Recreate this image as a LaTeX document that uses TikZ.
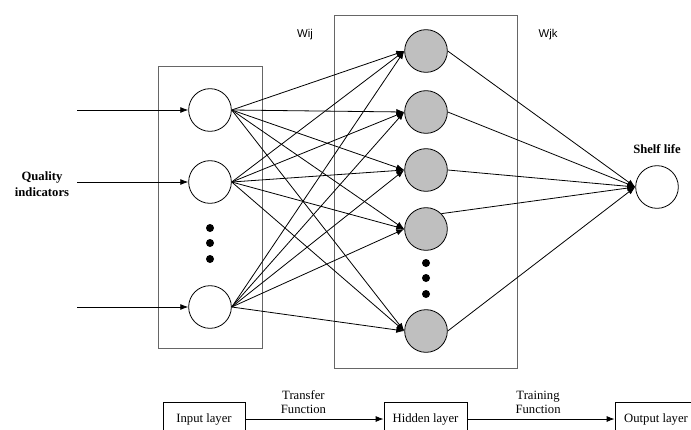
\documentclass[tikz,border=0pt]{standalone}
\usepackage{fontspec}
\setmainfont{Liberation Serif}
\newfontfamily\wfont{Liberation Sans}
\usetikzlibrary{arrows.meta,positioning}

\tikzset{
layerbox/.style= {draw=black!60,line width=0.7pt},
innode/.style= {circle,draw,line width=0.6pt,fill=white,minimum size=32pt,inner sep=0pt},
hidnode/.style= {circle,draw,line width=0.6pt,fill=black!25,minimum size=32pt,inner sep=0pt},
dotnode/.style= {circle,fill=black,minimum size=6pt,inner sep=0pt},
flowbox/.style= {rectangle,draw,line width=0.6pt,minimum height=25.5pt,inner sep=0pt},
flowlbl/.style= {align=center,inner sep=3.5pt,font=\fontsize{9.5}{10.5}\selectfont},
lbl/.style= {align=center,font=\fontsize{9.5}{11.5}\selectfont\bfseries},
wlbl/.style= {font=\fontsize{8.5}{10}\selectfont\wfont}
}

\begin{document}
\begin{tikzpicture}[x=0.75pt,y=-0.75pt,>={Latex[length=6pt,width=4.5pt]},line width=0.6pt]
\useasboundingbox (0,0) rectangle (691,429);

% the two layer frames
\draw[layerbox] (158,66) rectangle (262,348);
\draw[layerbox] (334,15) rectangle (517,368);

% input layer
\node[innode] (i1) at (210,110) {};
\node[innode] (i2) at (210,182) {};
\node[innode] (i3) at (210,307) {};
\node[dotnode] (id1) at (210,228) {};
\node[dotnode] (id2) at (210,243) {};
\node[dotnode] (id3) at (210,259) {};

% hidden layer
\node[hidnode] (h1) at (426,51) {};
\node[hidnode] (h2) at (426,112) {};
\node[hidnode] (h3) at (426,170) {};
\node[hidnode] (h4) at (426,229) {};
\node[hidnode] (h5) at (426,331) {};
\node[dotnode] (hd1) at (426,263) {};
\node[dotnode] (hd2) at (426,278) {};
\node[dotnode] (hd3) at (426,294) {};

% output layer
\node[innode] (out) at (657,187) {};
\node[lbl] (outlbl) at (657,149) {Shelf life};

% inputs
\node[lbl] (qi) at (42,184) {Quality\\indicators};
\coordinate (src1) at (77,110);
\coordinate (src2) at (77,182);
\coordinate (src3) at (77,307);
\foreach \i in {1,2,3}
  \draw[->] (src\i) -- (i\i.west);

% weights
\node[wlbl] (wij) at (305,35) {Wij};
\node[wlbl] (wjk) at (548,35) {Wjk};

% every input to every hidden node
\foreach \i in {1,2,3}
  \foreach \j in {1,...,5}
    \draw[->] (i\i.east) -- (h\j.west);

% every hidden node to the output
\foreach \j/\a in {1/east,2/east,3/east,4/45,5/east}
  \draw[->] (h\j.\a) -- (out.west);

% the flow below
\node[flowbox,minimum width=61.5pt] (fin) at (204,419) {\fontsize{9.5}{11}\selectfont Input layer};
\node[flowbox,minimum width=62.25pt] (fhid) at (425.5,419) {\fontsize{9.5}{11}\selectfont Hidden layer};
\node[flowbox,minimum width=61.5pt] (fout) at (656,419) {\fontsize{9.5}{11}\selectfont Output layer};
\draw[->] (fin) -- node[flowlbl,pos=0.42,above] {Transfer\\Function} (fhid);
\draw[->] (fhid) -- node[flowlbl,pos=0.48,above] {Training\\Function} (fout);
\end{tikzpicture}
\end{document}
